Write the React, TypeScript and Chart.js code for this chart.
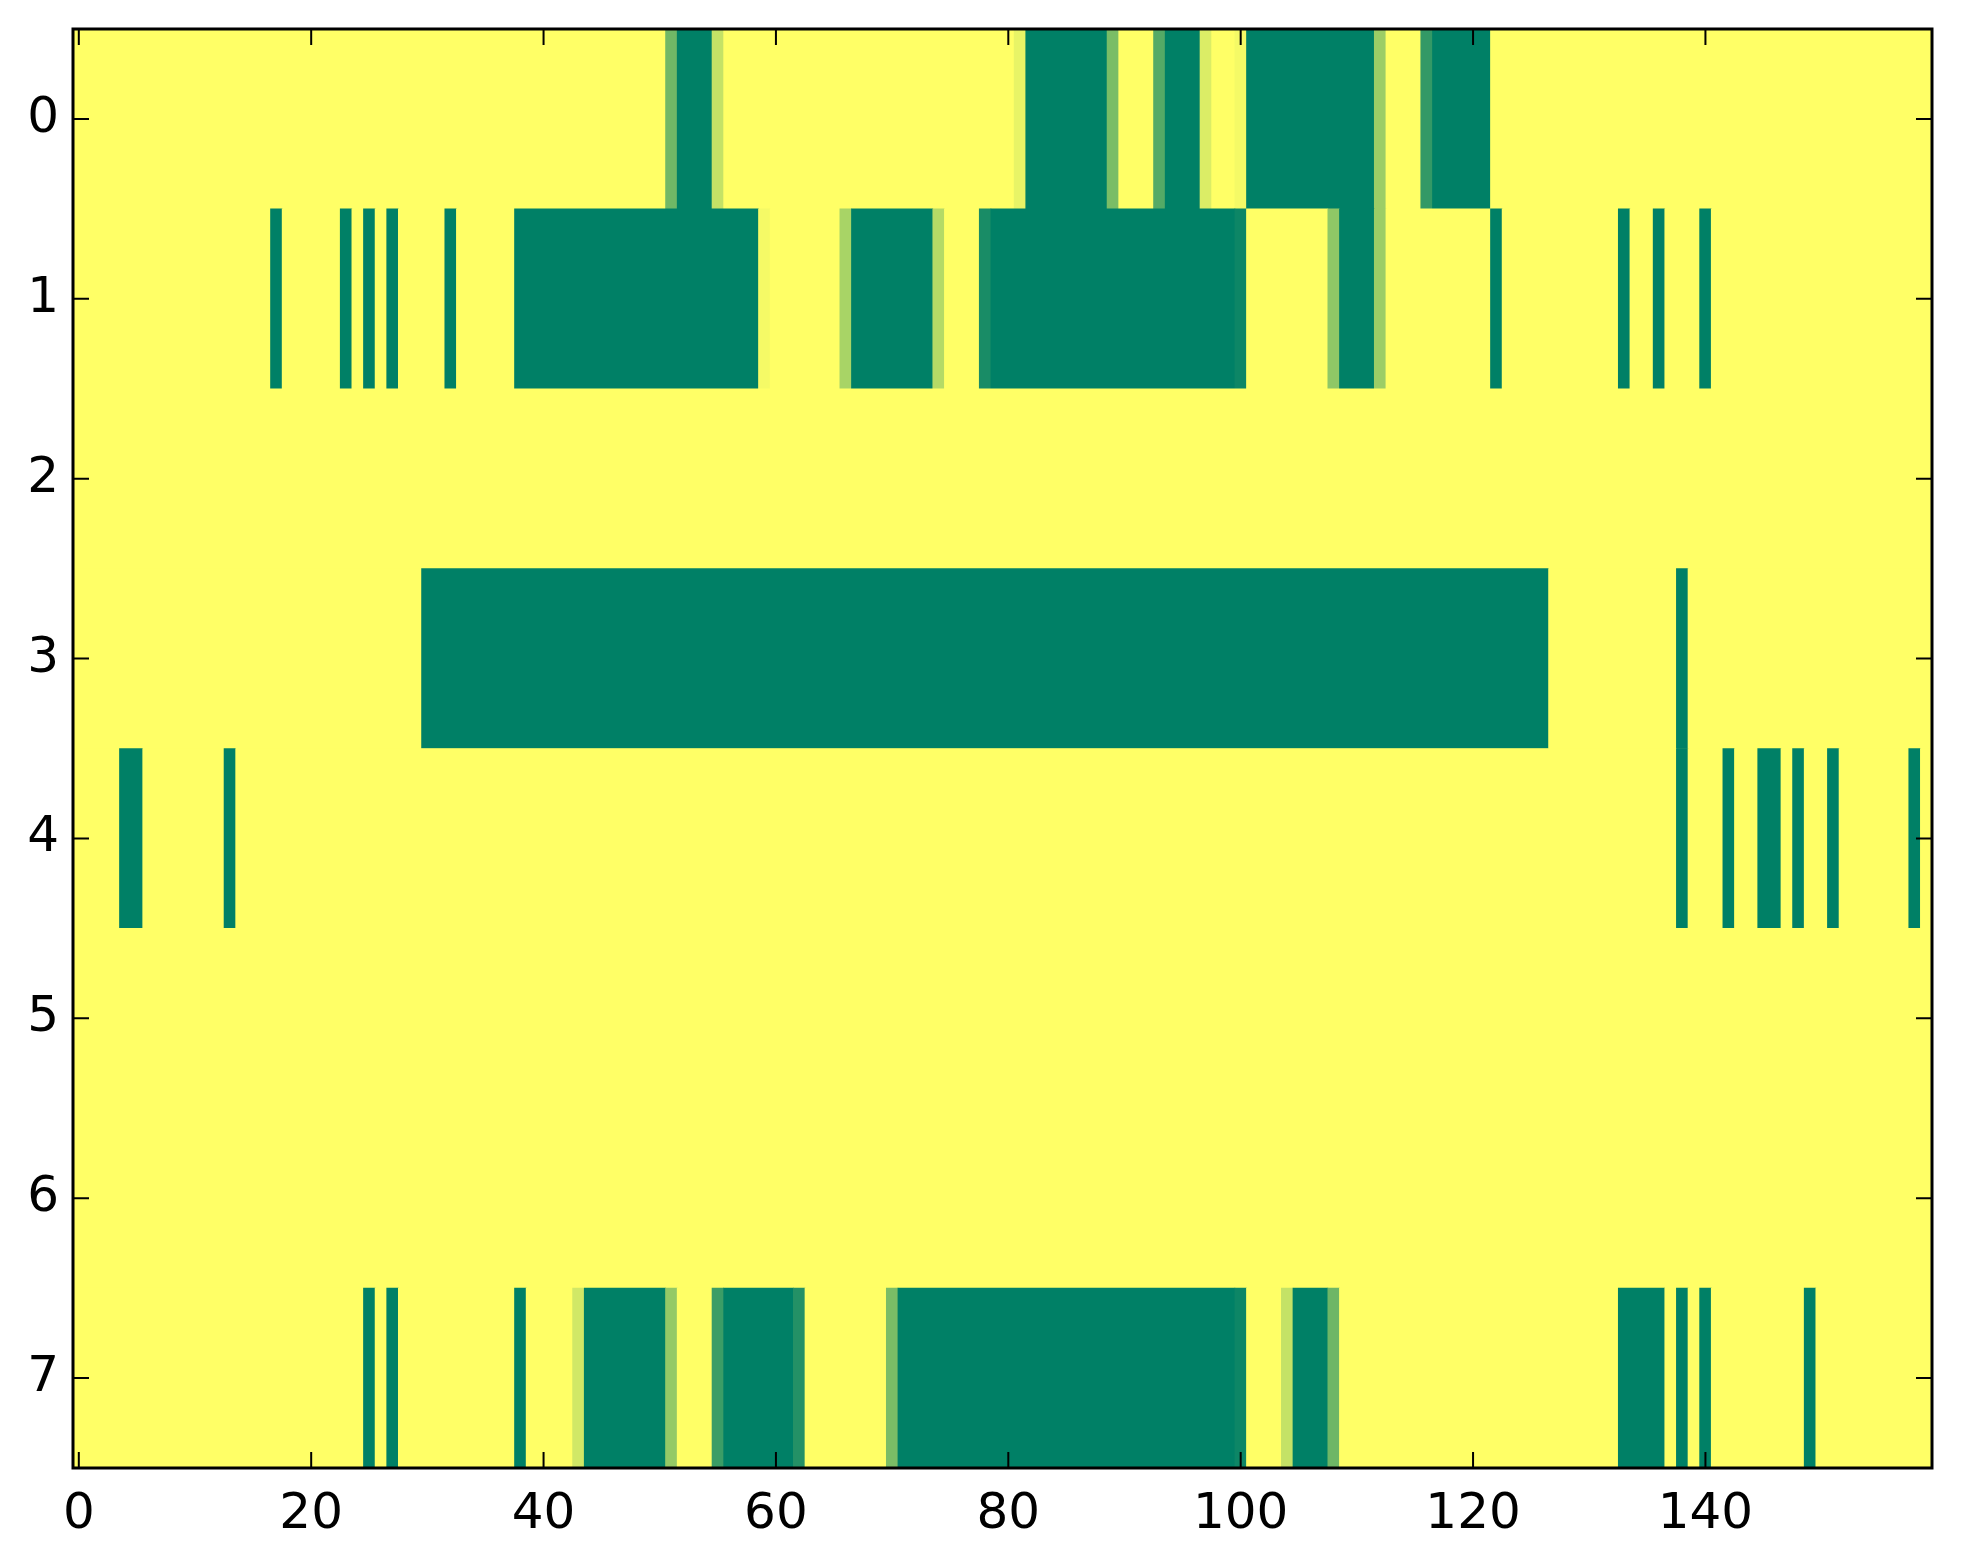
import React, { useEffect, useRef } from "react";
import { Chart, registerables } from "chart.js";

Chart.register(...registerables);

// ---- data ----
const NUM_COLS = 160;
const rowLabels = [0, 1, 2, 3, 4, 5, 6, 7];
const xTickValues = [0, 20, 40, 60, 80, 100, 120, 140];

// runs of non-zero cells per row: [firstColumn, lastColumn, value]
const row0: number[][] = [
  [51, 51, 0.56], [52, 54, 1], [55, 55, 0.23], [81, 81, 0.09], [82, 88, 1], [89, 89, 0.52],
  [93, 93, 0.67], [94, 96, 1], [97, 97, 0.14], [100, 100, 0.04], [101, 111, 1], [112, 112, 0.39],
  [116, 116, 0.8], [117, 121, 1],
];
const row1: number[][] = [
  [17, 17, 1], [23, 23, 1], [25, 25, 1], [27, 27, 1], [32, 32, 1], [38, 58, 1], [59, 59, 0.04],
  [66, 66, 0.34], [67, 73, 1], [74, 74, 0.29], [78, 78, 0.9], [79, 99, 1], [100, 100, 0.95],
  [108, 108, 0.44], [109, 111, 1], [112, 112, 0.39], [122, 122, 1], [133, 133, 1], [136, 136, 1],
  [140, 140, 1],
];
const row2: number[][] = [];
const row3: number[][] = [[30, 126, 1], [138, 138, 1]];
const row4: number[][] = [
  [4, 5, 1], [13, 13, 1], [138, 138, 1], [142, 142, 1], [145, 146, 1], [148, 148, 1],
  [151, 151, 1], [158, 158, 1],
];
const row5: number[][] = [];
const row6: number[][] = [];
const row7: number[][] = [
  [25, 25, 1], [27, 27, 1], [38, 38, 1], [43, 43, 0.18], [44, 50, 1], [51, 51, 0.42],
  [55, 55, 0.77], [56, 61, 1], [62, 62, 0.86], [70, 70, 0.52], [71, 99, 1], [100, 100, 0.95],
  [104, 104, 0.23], [105, 107, 1], [108, 108, 0.57], [133, 136, 1], [138, 138, 1], [140, 140, 1],
  [149, 149, 1],
];
const rows = [row0, row1, row2, row3, row4, row5, row6, row7];

// summer_r colormap
function summerR(v: number): string {
  const t = 1 - v;
  return `rgb(${Math.round(255 * t)}, ${Math.round(255 * (0.5 + 0.5 * t))}, 102)`;
}

type Cell = { row: number; start: number; end: number; value: number };

function buildCells(): Cell[] {
  const cells: Cell[] = [];
  rows.forEach((runs, r) => {
    let next = 0;
    const sorted = [...runs].sort((a, b) => a[0] - b[0]);
    for (const [s, e, v] of sorted) {
      if (s > next) cells.push({ row: r, start: next, end: s - 1, value: 0 });
      cells.push({ row: r, start: s, end: e, value: v });
      next = e + 1;
    }
    if (next < NUM_COLS) cells.push({ row: r, start: next, end: NUM_COLS - 1, value: 0 });
  });
  return cells;
}

const framePlugin = {
  id: "frameTicks",
  beforeDatasetsDraw(chart: any) {
    const { ctx, chartArea } = chart;
    ctx.save();
    ctx.fillStyle = summerR(0);
    ctx.fillRect(chartArea.left, chartArea.top, chartArea.right - chartArea.left, chartArea.bottom - chartArea.top);
    ctx.restore();
  },
  afterDraw(chart: any) {
    const { ctx, chartArea, scales } = chart;
    const { left, right, top, bottom } = chartArea;
    const tl = 16;
    ctx.save();
    ctx.strokeStyle = "#000";
    ctx.lineWidth = 2;
    ctx.beginPath();
    for (const v of xTickValues) {
      const px = scales.x.getPixelForValue(v);
      ctx.moveTo(px, bottom);
      ctx.lineTo(px, bottom - tl);
      ctx.moveTo(px, top);
      ctx.lineTo(px, top + tl);
    }
    for (const v of rowLabels) {
      const py = scales.y.getPixelForValue(v);
      ctx.moveTo(left, py);
      ctx.lineTo(left + tl, py);
      ctx.moveTo(right, py);
      ctx.lineTo(right - tl, py);
    }
    ctx.stroke();
    ctx.lineWidth = 3;
    ctx.strokeRect(left, top, right - left, bottom - top);
    ctx.restore();
  },
};

export default function App() {
  const canvasRef = useRef<HTMLCanvasElement | null>(null);

  useEffect(() => {
    if (!canvasRef.current) return;
    const cells = buildCells();
    const font = { family: "DejaVu Sans", size: 50 };
    const chart = new Chart(canvasRef.current, {
      type: "bar",
      data: {
        datasets: [
          {
            data: cells.map((c) => ({ y: c.row, x: [c.start - 0.5, c.end + 0.5] })) as any,
            backgroundColor: cells.map((c) => summerR(c.value)),
            borderWidth: 0,
            barPercentage: 1,
            categoryPercentage: 1,
          },
        ],
      },
      options: {
        indexAxis: "y",
        animation: false,
        responsive: false,
        devicePixelRatio: 1,
        layout: { padding: { top: 29, right: 31, left: 0, bottom: 0 } },
        plugins: { legend: { display: false }, tooltip: { enabled: false } },
        scales: {
          x: {
            type: "linear",
            min: -0.5,
            max: NUM_COLS - 0.5,
            offset: false,
            position: "bottom",
            grid: { display: false, drawTicks: false },
            border: { display: false },
            ticks: { font, color: "#000", padding: 17, maxRotation: 0, autoSkip: false },
            afterBuildTicks: (s: any) => {
              s.ticks = xTickValues.map((v) => ({ value: v }));
            },
            afterFit: (s: any) => {
              s.height = 96;
              s.paddingLeft = 0;
              s.paddingRight = 0;
            },
          },
          y: {
            type: "linear",
            min: -0.5,
            max: rowLabels.length - 0.5,
            reverse: true,
            offset: false,
            grid: { display: false, drawTicks: false },
            border: { display: false },
            ticks: { font, color: "#000", padding: 14, autoSkip: false },
            afterBuildTicks: (s: any) => {
              s.ticks = rowLabels.map((v) => ({ value: v }));
            },
            afterFit: (s: any) => {
              s.width = 73;
              s.paddingTop = 0;
              s.paddingBottom = 0;
            },
          },
        },
      } as any,
      plugins: [framePlugin],
    });
    return () => chart.destroy();
  }, []);

  return (
    <div style={{ position: "absolute", left: 0, top: 0, width: 1963, height: 1564, background: "#fff" }}>
      <canvas ref={canvasRef} width={1963} height={1564} style={{ width: 1963, height: 1564, display: "block" }} />
    </div>
  );
}
